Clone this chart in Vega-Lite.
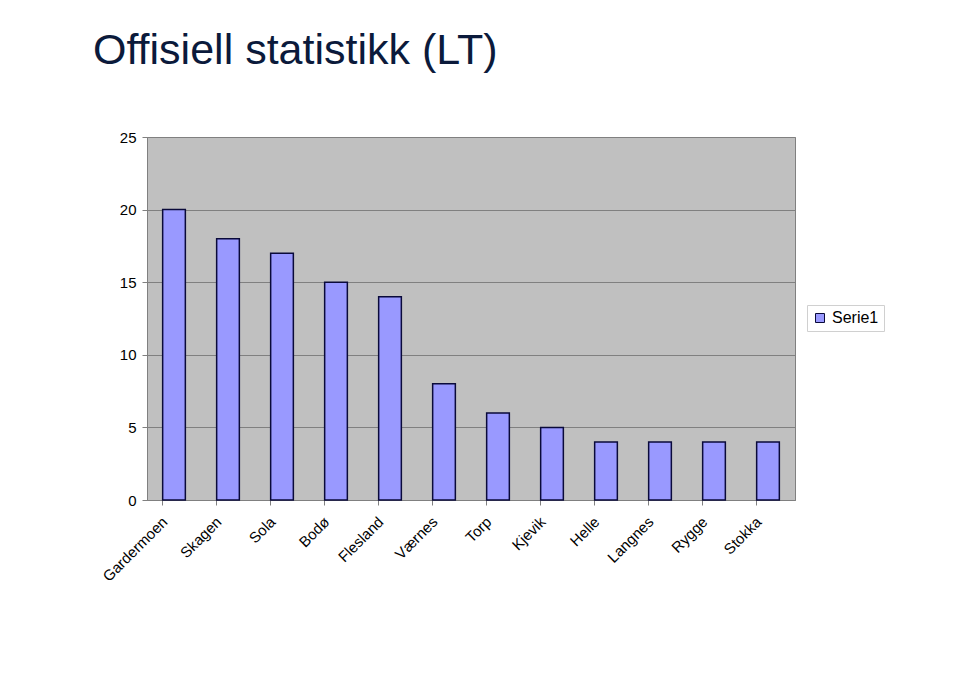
{
  "$schema": "https://vega.github.io/schema/vega-lite/v6.json",
  "width": 648,
  "height": 363,
  "autosize": {"type": "none"},
  "padding": {"left": 147, "top": 137, "right": 165, "bottom": 173},
  "background": "white",
  "title": {
    "text": "Offisiell statistikk (LT)",
    "anchor": "start",
    "frame": "group",
    "font": "Liberation Sans",
    "fontSize": 43,
    "fontWeight": "normal",
    "color": "#0b1a3b",
    "baseline": "alphabetic",
    "offset": 23,
    "dx": -54
  },
  "data": {
    "values": [
      {"airport": "Gardermoen", "value": 20, "series": "Serie1"},
      {"airport": "Skagen", "value": 18, "series": "Serie1"},
      {"airport": "Sola", "value": 17, "series": "Serie1"},
      {"airport": "Bodø", "value": 15, "series": "Serie1"},
      {"airport": "Flesland", "value": 14, "series": "Serie1"},
      {"airport": "Værnes", "value": 8, "series": "Serie1"},
      {"airport": "Torp", "value": 6, "series": "Serie1"},
      {"airport": "Kjevik", "value": 5, "series": "Serie1"},
      {"airport": "Helle", "value": 4, "series": "Serie1"},
      {"airport": "Langnes", "value": 4, "series": "Serie1"},
      {"airport": "Rygge", "value": 4, "series": "Serie1"},
      {"airport": "Stokka", "value": 4, "series": "Serie1"}
    ]
  },
  "mark": {"type": "bar", "stroke": "#0a0a3a", "strokeWidth": 1.5},
  "encoding": {
    "x": {
      "field": "airport",
      "type": "nominal",
      "sort": null,
      "scale": {"paddingInner": 0.58, "paddingOuter": 0.29},
      "axis": {
        "title": null,
        "labelAngle": -45,
        "labelAlign": "right",
        "labelBaseline": "top",
        "labelFont": "Liberation Sans",
        "labelFontSize": 15,
        "labelColor": "black",
        "labelPadding": 9,
        "labelOffset": -14,
        "bandPosition": 0,
        "tickColor": "#808080",
        "tickSize": 5,
        "domainColor": "#808080",
        "grid": false
      }
    },
    "y": {
      "field": "value",
      "type": "quantitative",
      "scale": {"domain": [0, 25], "nice": false},
      "axis": {
        "title": null,
        "values": [0, 5, 10, 15, 20, 25],
        "labelFont": "Liberation Sans",
        "labelFontSize": 15,
        "labelColor": "black",
        "labelPadding": 6,
        "tickColor": "#808080",
        "tickSize": 5,
        "domainColor": "#808080",
        "grid": true,
        "gridColor": "#808080",
        "gridWidth": 1
      }
    },
    "color": {
      "field": "series",
      "type": "nominal",
      "scale": {"range": ["#9999ff"]},
      "legend": {
        "title": null,
        "orient": "none",
        "legendX": 660,
        "legendY": 168,
        "symbolType": "square",
        "symbolSize": 81,
        "symbolStrokeColor": "#0a0a3a",
        "symbolStrokeWidth": 1,
        "labelFont": "Liberation Sans",
        "labelFontSize": 16,
        "labelColor": "black",
        "labelOffset": 4,
        "strokeColor": "#d0d0d0",
        "padding": 5,
        "fillColor": "white"
      }
    }
  },
  "config": {
    "view": {"fill": "#c0c0c0", "stroke": "#808080", "strokeWidth": 1}
  }
}
